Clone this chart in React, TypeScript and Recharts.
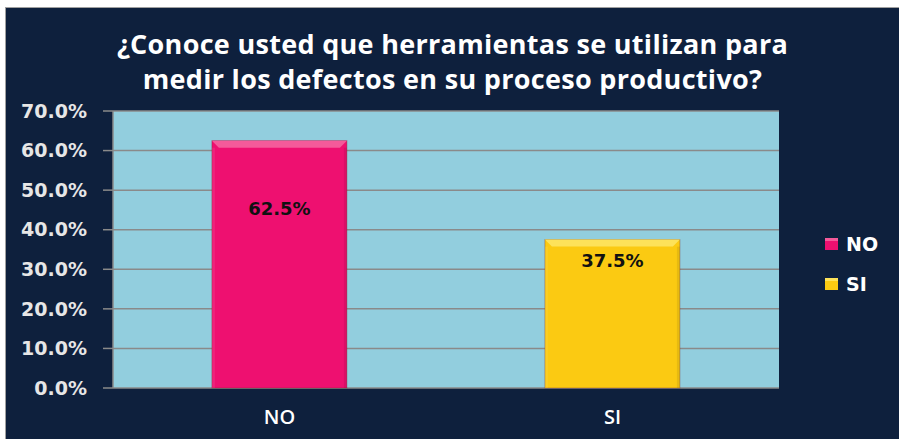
import React from "react";
import { BarChart, Bar, XAxis, YAxis, CartesianGrid, Cell, LabelList } from "recharts";

const categories = ["NO", "SI"];
const values = [0.625, 0.375];
const colors = ["#EE1070", "#FBCA12"];
const bevelColors = ["#F45A9A", "#FDE25A"];
const yTicks = [0, 0.1, 0.2, 0.3, 0.4, 0.5, 0.6, 0.7];
const titleLines = [
  "¿Conoce usted que herramientas se utilizan para",
  "medir los defectos en su proceso productivo?",
];
const labelOffsets = [68, 21];

const data = categories.map((c, i) => ({ name: c, value: values[i] }));

const pct = (v: number) => (v * 100).toFixed(1) + "%";

const BevelBar = (props: any) => {
  const { x, y, width, height, index } = props;
  if (!height || height <= 0) return null;
  const b = 7;
  return (
    <g>
      <rect x={x} y={y} width={width} height={height} fill={colors[index]} stroke="rgba(120,40,40,0.35)" strokeWidth={1} />
      <polygon
        points={`${x},${y} ${x + width},${y} ${x + width - b},${y + b} ${x + b},${y + b}`}
        fill={bevelColors[index]}
      />
      <rect x={x + width - 3} y={y + b} width={3} height={height - b} fill="rgba(0,0,0,0.08)" />
      <rect x={x} y={y + b} width={3} height={height - b} fill="rgba(255,255,255,0.08)" />
    </g>
  );
};

const BarLabel = (props: any) => {
  const { x, y, width, value, index } = props;
  return (
    <text
      x={x + width / 2}
      y={y + labelOffsets[index]}
      textAnchor="middle"
      dominantBaseline="central"
      fontFamily="DejaVu Sans"
      fontWeight="bold"
      fontSize={18}
      fill="#111"
    >
      {pct(value)}
    </text>
  );
};

export default function App() {
  return (
    <div style={{ position: "fixed", left: 0, top: 0, width: 899, height: 439, background: "#ffffff" }}>
      <div
        style={{
          position: "absolute",
          left: 5,
          top: 7,
          width: 894,
          height: 432,
          background: "#0E203D",
          borderTop: "1px solid #a0a0a0",
          borderLeft: "1px solid #a0a0a0",
        }}
      />
      <div
        style={{
          position: "absolute",
          left: 0,
          top: 26,
          width: 905,
          textAlign: "center",
          color: "#ffffff",
          fontFamily: "Open Sans",
          fontWeight: "bold",
          fontSize: 27,
          lineHeight: "35px",
          letterSpacing: "0.3px",
        }}
      >
        {titleLines.map((t, i) => (
          <div key={i}>{t}</div>
        ))}
      </div>
      <div style={{ position: "absolute", left: 0, top: 0 }}>
        <BarChart
          width={899}
          height={439}
          data={data}
          margin={{ top: 111, right: 120, bottom: 0, left: 8 }}
          barCategoryGap="29.7%"
        >
          <CartesianGrid vertical={false} fill="#92CEDE" stroke="#8a8a8a" strokeWidth={1.5} />
          <XAxis
            xAxisId="ticks"
            type="number"
            domain={[0, 2]}
            ticks={[0, 1, 2]}
            tick={false}
            height={0}
            tickSize={6}
            stroke="#8a8a8a"
            axisLine={{ stroke: "#8a8a8a", strokeWidth: 1.5 }}
            tickLine={{ stroke: "#8a8a8a", strokeWidth: 1.5 }}
          />
          <XAxis
            dataKey="name"
            axisLine={false}
            tickLine={false}
            tickSize={0}
            tickMargin={22}
            height={51}
            tick={{ fill: "#ffffff", fontFamily: "Open Sans", fontWeight: 600, fontSize: 20 }}
          />
          <YAxis
            domain={[0, 0.7]}
            ticks={yTicks}
            tickFormatter={pct}
            width={105}
            tickSize={10}
            tickMargin={16}
            axisLine={{ stroke: "#8a8a8a", strokeWidth: 1.5 }}
            tickLine={{ stroke: "#8a8a8a", strokeWidth: 1.5 }}
            tick={{ fill: "#e6e6e6", fontFamily: "DejaVu Sans", fontWeight: "bold", fontSize: 19 }}
            interval={0}
          />
          <YAxis
            yAxisId="right"
            orientation="right"
            width={0}
            tick={false}
            tickLine={false}
            axisLine={{ stroke: "#7a7a7a", strokeWidth: 1.5 }}
          />
          <Bar dataKey="value" isAnimationActive={false} shape={<BevelBar />}>
            {data.map((d, i) => (
              <Cell key={d.name} fill={colors[i]} />
            ))}
            <LabelList dataKey="value" content={<BarLabel />} />
          </Bar>
        </BarChart>
      </div>
      <div style={{ position: "absolute", left: 825, top: 224 }}>
        {categories.map((c, i) => (
          <div key={c} style={{ display: "flex", alignItems: "center", height: 40 }}>
            <div
              style={{
                width: 13,
                height: 12,
                background: colors[i],
                boxShadow: `inset 0 3px 0 ${bevelColors[i]}`,
                marginRight: 8,
              }}
            />
            <span
              style={{
                color: "#ffffff",
                fontFamily: "DejaVu Sans",
                fontWeight: "bold",
                fontSize: 19,
              }}
            >
              {c}
            </span>
          </div>
        ))}
      </div>
    </div>
  );
}
